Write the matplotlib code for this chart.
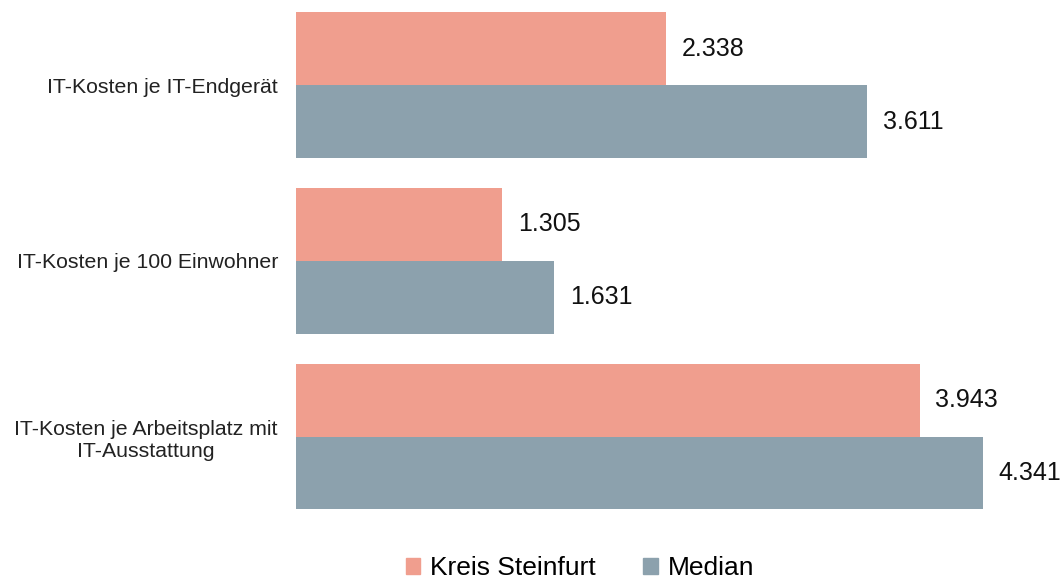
import matplotlib
matplotlib.use("Agg")
import matplotlib.pyplot as plt
from matplotlib.patches import Patch

plt.rcParams['font.family'] = ['Liberation Sans', 'DejaVu Sans']

categories = ["IT-Kosten je IT-Endgerät",
              "IT-Kosten je 100 Einwohner",
              "IT-Kosten je Arbeitsplatz mit\nIT-Ausstattung"]
kreis = [2338, 1305, 3943]
median = [3611, 1631, 4341]
series_names = ["Kreis Steinfurt", "Median"]
colors = ["#F09E8E", "#8CA1AD"]

def fmt(v):
    return f"{v:,}".replace(",", ".")

W, H = 1063, 586
fig = plt.figure(figsize=(W / 100, H / 100), dpi=100)
ax = fig.add_axes([296 / W, (H - 530) / H, (W - 296) / W, 530 / H])

h = 0.415
pos = list(range(len(categories)))
b1 = ax.barh([p - h / 2 for p in pos], kreis, height=h, color=colors[0])
b2 = ax.barh([p + h / 2 for p in pos], median, height=h, color=colors[1])

for bars, vals in ((b1, kreis), (b2, median)):
    for bar, v in zip(bars, vals):
        ax.text(v + 100, bar.get_y() + bar.get_height() / 2, fmt(v),
                va="center", ha="left", fontsize=18, color="#111111")

ax.set_xlim(0, 4850)
ax.set_ylim(2.532, -0.484)
ax.set_yticks(pos)
ax.set_yticklabels(categories, fontsize=15.3, color="#222222",
                   multialignment="center", linespacing=1.2)
ax.tick_params(axis="y", length=0, pad=13)
ax.set_xticks([])
for s in ax.spines.values():
    s.set_visible(False)

handles = [Patch(color=c) for c in colors]
fig.legend(handles, series_names, loc="center", bbox_to_anchor=(580 / W, 18 / H),
           ncol=2, frameon=False, fontsize=19, handlelength=0.55, handleheight=0.55,
           handletextpad=0.38, columnspacing=1.8)

fig.savefig("out.png", dpi=100)
